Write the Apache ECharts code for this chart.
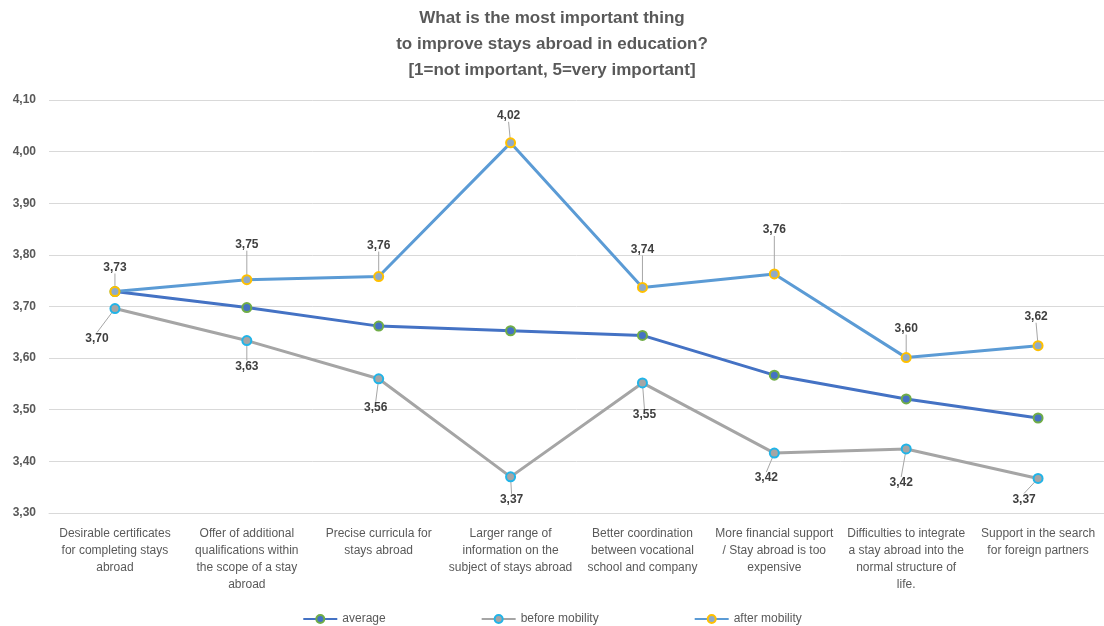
<!DOCTYPE html>
<html>
<head>
<meta charset="utf-8">
<script src="https://cdn.jsdelivr.net/npm/echarts@6/dist/echarts.min.js"></script>
<style>
  html, body { margin: 0; padding: 0; background: #ffffff; }
  #chart { width: 1104px; height: 626px; }
</style>
</head>
<body>
<div id="chart"></div>
<script>
// Survey categories (wrapped the way they appear under the axis)
const categories = [
  'Desirable certificates\nfor completing stays\nabroad',
  'Offer of additional\nqualifications within\nthe scope of a stay\nabroad',
  'Precise curricula for\nstays abroad',
  'Larger range of\ninformation on the\nsubject of stays abroad',
  'Better coordination\nbetween vocational\nschool and company',
  'More financial support\n/ Stay abroad is too\nexpensive',
  'Difficulties to integrate\na stay abroad into the\nnormal structure of\nlife.',
  'Support in the search\nfor foreign partners'
];

// Mean ratings (1 = not important, 5 = very important)
const average        = [3.729, 3.698, 3.662, 3.653, 3.644, 3.567, 3.521, 3.484];
const beforeMobility = [3.696, 3.634, 3.560, 3.370, 3.552, 3.416, 3.424, 3.367];
const afterMobility  = [3.729, 3.752, 3.758, 4.017, 3.737, 3.763, 3.601, 3.624];

// Callout offsets of the value labels (label centre relative to the point)
const afterLabelOffsets  = [[0, -24], [0, -35], [0, -31], [-2, -27], [0, -38], [0, -44], [0, -29], [-2, -29]];
const beforeLabelOffsets = [[-18, 30], [0, 26], [-3, 29], [1, 23], [2, 32], [-8, 25], [-5, 34], [-14, 21]];

const FONT = '"Liberation Sans", Arial, sans-serif';
const fmt = v => v.toFixed(2).replace('.', ',');

function calloutSeries(name, data, lineColor, markerFill, markerBorder, offsets) {
  return {
    name: name,
    type: 'line',
    data: data,
    symbol: 'circle',
    symbolSize: 9,
    lineStyle: { color: lineColor, width: 3 },
    itemStyle: { color: markerFill, borderColor: markerBorder, borderWidth: 2 },
    label: {
      show: !!offsets,
      position: 'inside',
      formatter: p => fmt(p.value),
      fontFamily: FONT,
      fontSize: 12,
      fontWeight: 'bold',
      color: '#404040'
    },
    labelLine: {
      show: !!offsets,
      lineStyle: { color: '#a6a6a6', width: 1 }
    },
    labelLayout: offsets ? (params => {
      const o = offsets[params.dataIndex];
      return { dx: o[0], dy: o[1] };
    }) : undefined,
    emphasis: { disabled: true },
    animation: false
  };
}

const chart = echarts.init(document.getElementById('chart'), null, { renderer: 'canvas' });

chart.setOption({
  backgroundColor: '#ffffff',
  animation: false,
  title: {
    text: 'What is the most important thing\nto improve stays abroad in education?\n[1=not important, 5=very important]',
    left: 'center',
    top: 0,
    textStyle: {
      fontFamily: FONT,
      fontSize: 17,
      fontWeight: 'bold',
      color: '#595959',
      lineHeight: 26
    }
  },
  legend: {
    top: 608,
    left: 'center',
    itemWidth: 34,
    itemHeight: 10,
    itemGap: 95,
    textStyle: { fontFamily: FONT, fontSize: 12, color: '#595959' },
    data: ['average', 'before mobility', 'after mobility']
  },
  grid: {
    left: 49,
    right: 0,
    top: 100,
    bottom: 113
  },
  xAxis: {
    type: 'category',
    data: categories,
    boundaryGap: true,
    axisLine: { show: true, lineStyle: { color: '#d9d9d9', width: 1 } },
    axisTick: { show: false },
    axisLabel: {
      interval: 0,
      margin: 12,
      fontFamily: FONT,
      fontSize: 12,
      lineHeight: 17,
      color: '#595959',
      align: 'center'
    }
  },
  yAxis: {
    type: 'value',
    min: 3.3,
    max: 4.1,
    interval: 0.1,
    axisLine: { show: false },
    axisTick: { show: false },
    splitLine: { lineStyle: { color: '#d9d9d9', width: 1 } },
    axisLabel: {
      margin: 13,
      fontFamily: FONT,
      fontSize: 12,
      fontWeight: 'bold',
      color: '#595959',
      formatter: v => fmt(v)
    }
  },
  series: [
    calloutSeries('average', average, '#4472c4', '#4472c4', '#70ad47', null),
    calloutSeries('before mobility', beforeMobility, '#a5a5a5', '#a5a5a5', '#21b4e8', beforeLabelOffsets),
    calloutSeries('after mobility', afterMobility, '#5b9bd5', '#8faac8', '#ffc000', afterLabelOffsets)
  ]
});
</script>
</body>
</html>
